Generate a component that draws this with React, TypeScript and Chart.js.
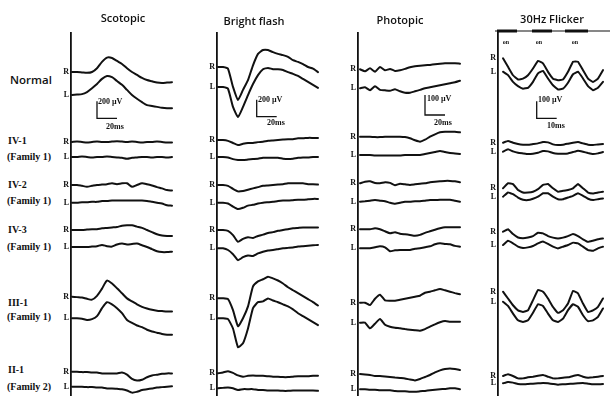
import React, { useEffect, useRef } from "react";
import { Chart, registerables } from "chart.js";
Chart.register(...registerables);

// ---------- categories / labels ----------
const protocols = ["Scotopic", "Bright flash", "Photopic", "30Hz Flicker"];
const subjects = ["Normal", "IV-1", "IV-2", "IV-3", "III-1", "II-1"];
const families = ["", "(Family 1)", "(Family 1)", "(Family 1)", "(Family 1)", "(Family 2)"];
const scaleBarUv = [200, 200, 100, 100];
const scaleBarMs = [20, 20, 20, 10];

// ---------- time bases (ms) ----------
const timeMs = [0, 5, 10, 15, 20, 25, 30, 35, 40, 45, 50, 55, 60, 65, 70, 75, 80, 85, 90, 95, 100];
const flickerTimeMs = [0, 2.5, 5, 7.5, 10, 12.5, 15, 17.5, 20, 22.5, 25, 27.5, 30, 32.5, 35, 37.5, 40, 42.5, 45, 47.5, 50];
const flickerStimOnMs = [-3, 14.5, 31];
const flickerStimOffMs = [7, 24.5, 42.5];

// ---------- Scotopic (µV) ----------
const scotNormalR = [0, 0, -5, -10, 0, 45, 120, 170, 165, 130, 95, 45, 0, -35, -70, -95, -110, -125, -130, -125, -120];
const scotNormalL = [0, 5, 10, 35, 80, 130, 190, 225, 210, 165, 120, 60, 0, -45, -85, -120, -130, -140, -150, -155, -155];
const scotIV1R = [0, 5, 0, -5, 0, 5, 0, 0, 5, 10, 5, 0, 5, 0, -5, 0, 0, 5, 0, -5, -5];
const scotIV1L = [0, 0, 5, 0, -5, 0, 0, 5, 0, -5, -10, -20, -10, -5, 0, 0, -5, 0, 0, -5, 0];
const scotIV2R = [0, 0, -10, -20, -10, 0, 5, 10, 20, 10, 20, 20, -20, 0, 20, 10, -5, -25, -40, -60, -65];
const scotIV2L = [0, 0, 5, 5, 10, 10, 20, 20, 25, 25, 25, 25, 25, 25, 25, 20, 10, 0, -10, -30, -35];
const scotIV3R = [0, 0, 0, 5, 10, 10, 20, 25, 30, 35, 50, 55, 55, 40, 25, 0, -25, -50, -65, -70, -70];
const scotIV3L = [0, 0, 0, 0, 5, 10, 25, 10, 5, 30, 40, 30, 35, 40, 20, 0, -25, -50, -60, -60, -55];
const scotIII1R = [0, -5, -10, -25, -35, 10, 95, 190, 155, 100, 40, -20, -55, -90, -120, -140, -155, -165, -170, -175, -175];
const scotIII1L = [0, 0, -5, -20, -10, 25, 120, 190, 165, 120, 60, -20, -55, -85, -105, -135, -155, -170, -185, -195, -195];
const scotII1R = [0, 0, -5, -5, -10, -10, -20, -20, -20, -20, -10, -35, -85, -105, -95, -65, -45, -35, -25, -20, -20];
const scotII1L = [0, 0, 0, -5, -5, -10, -10, -20, -20, -25, -30, -45, -70, -60, -40, -30, -20, -10, -5, 0, 5];

// ---------- Bright flash (µV) ----------
const brightNormalR = [0, 0, -20, -235, -390, -270, -155, 20, 155, 200, 200, 175, 155, 140, 120, 80, 60, 35, 0, -20, -60];
const brightNormalL = [0, 0, -20, -235, -355, -235, -95, 35, 140, 210, 225, 210, 210, 200, 175, 155, 130, 95, 60, 25, -10];
const brightIV1R = [0, 0, -10, -35, -60, -45, -35, -35, -25, -20, -10, -5, 0, 5, 10, 10, 20, 20, 25, 25, 25];
const brightIV1L = [0, 0, -5, -25, -35, -35, -30, -25, -20, -10, -10, -10, -10, -20, -25, -20, -10, -5, -5, 0, 0];
const brightIV2R = [0, 0, -10, -45, -75, -70, -55, -40, -25, -10, -5, 0, 5, 10, 20, 20, 20, 20, 10, 10, 5];
const brightIV2L = [0, 0, -10, -45, -75, -60, -35, -25, -10, 0, 5, 10, 20, 25, 25, 30, 35, 35, 40, 45, 45];
const brightIV3R = [0, 0, -10, -60, -140, -105, -85, -95, -70, -55, -35, -25, -10, 0, 10, 20, 25, 30, 30, 30, 30];
const brightIV3L = [0, 0, -20, -70, -140, -105, -85, -90, -60, -40, -25, -20, -10, 0, 5, 10, 20, 25, 30, 35, 40];
const brightIII1R = [0, 0, -10, -140, -330, -235, -95, 140, 200, 225, 255, 235, 210, 175, 130, 95, 60, 25, -10, -45, -85];
const brightIII1L = [0, 0, -10, -120, -340, -295, -120, 120, 190, 200, 235, 210, 190, 165, 140, 105, 60, 25, -10, -45, -80];
const brightII1R = [0, 10, 25, 5, -25, -40, -30, -25, -30, -30, -35, -40, -40, -45, -45, -40, -35, -35, -35, -30, -30];
const brightII1L = [0, 5, 10, 0, -20, -10, -10, -10, -20, -20, -25, -25, -25, -30, -30, -25, -25, -25, -25, -25, -30];

// ---------- Photopic (µV) ----------
const photoNormalR = [0, -10, 5, -12, 12, -5, 2, -8, -5, 2, 10, 15, 18, 20, 22, 25, 28, 30, 30, 30, 28];
const photoNormalL = [0, 5, -10, 10, -8, -10, -12, -5, -15, -22, -22, -15, -8, 0, 5, 10, 15, 20, 25, 30, 38];
const photoIV1R = [0, 0, 0, -2, -2, 0, 0, 0, 0, -2, -8, -18, -25, -15, 0, 12, 22, 25, 25, 25, 22];
const photoIV1L = [0, 0, 0, -2, -2, -2, -2, -2, -2, 0, 0, 0, 0, 5, 10, 15, 20, 15, 10, 8, 5];
const photoIV2R = [0, 8, 10, 2, 0, 5, 2, -10, -2, -5, -8, -5, -2, 0, 5, 8, 10, 12, 12, 10, 5];
const photoIV2L = [0, 2, 5, 8, 5, 2, -5, -10, -5, 0, 0, 2, 2, 5, 8, 8, 10, 10, 10, 5, 0];
const photoIV3R = [0, 0, 0, 5, 0, -10, -20, -15, -22, -25, -28, -32, -28, -18, -10, -2, 5, 10, 10, 10, 10];
const photoIV3L = [0, 0, 0, 5, 10, 5, -15, -10, -8, -8, -8, -2, 0, 5, 10, 20, 25, 22, 20, 12, 8];
const photoIII1R = [0, 0, -12, 20, 40, 12, 10, 10, 15, 20, 25, 30, 35, 50, 55, 62, 68, 62, 55, 48, 42];
const photoIII1L = [0, 0, -28, -5, 18, -10, -20, -25, -28, -32, -35, -38, -40, -32, -20, -8, 2, 8, 5, 5, 5];
const photoII1R = [0, -2, -5, -10, -10, -12, -15, -18, -20, -22, -28, -32, -25, -15, -5, 8, 18, 25, 28, 25, 20];
const photoII1L = [0, 0, -2, -2, -5, -5, -5, -8, -10, -10, -12, -12, -10, -8, -5, -2, 0, 2, 5, 5, 0];

// ---------- 30Hz Flicker (µV) ----------
const flickNormalR = [0, -50, -100, -125, -120, -100, -60, -15, -30, -80, -120, -130, -125, -80, -20, -20, -70, -120, -140, -120, -70];
const flickNormalL = [0, -20, -60, -85, -100, -95, -60, -10, 5, -40, -80, -105, -100, -65, -15, 0, -40, -85, -110, -95, -60];
const flickIV1R = [0, 10, 0, -8, -12, -12, -8, -4, 4, 2, -10, -14, -12, -6, 0, 4, -4, -12, -14, -10, -8];
const flickIV1L = [0, 14, 2, -6, -10, -14, -12, -6, 4, 2, -8, -12, -12, -10, -2, 6, 0, -8, -14, -10, -2];
const flickIV2R = [0, 30, 25, -10, -25, -25, -20, -5, 20, 25, 0, -20, -15, -10, 0, 25, 0, -25, -30, -25, -20];
const flickIV2L = [0, 25, 15, -5, -18, -20, -12, 0, 20, 20, 0, -15, -15, -5, 5, 20, 5, -12, -20, -15, -10];
const flickIV3R = [0, 14, -14, -34, -38, -34, -26, -6, -10, -26, -35, -40, -35, -26, -14, -26, -45, -60, -53, -45, -40];
const flickIV3L = [0, 25, 10, -10, -18, -14, -6, 10, 20, 6, -10, -20, -10, 0, 14, 10, -10, -30, -34, -20, -10];
const flickIII1R = [0, -40, -80, -110, -120, -110, -50, 10, 0, -40, -90, -125, -110, -70, 5, -10, -70, -120, -110, -90, -40];
const flickIII1L = [0, -25, -70, -110, -120, -110, -65, -15, -25, -70, -110, -120, -100, -50, -15, -30, -80, -115, -110, -90, -40];
const flickII1R = [0, 10, 0, -14, -14, -8, -4, 2, 6, -4, -14, -14, -10, -8, 0, 6, -4, -10, -8, -4, 0];
const flickII1L = [0, 8, 4, -4, -6, -4, -2, 0, 2, 0, -4, -8, -6, -4, -2, 0, 2, -2, -6, -6, -4];

// ---------- layout (pixels) ----------
const H = 396;
const YW = 14;
const INK = "#111";

type Col = {
  axisX: number; startX: number; right: number; top: number;
  msPerPx: number; uvPerPx: number; time: number[]; tension: number;
  traces: number[][][]; baseY: number[][];
  bar: { x: number; y: number };
  barText: { uv: [number, number]; ms: [number, number] };
  titleX: number; titleY: number;
};

const columns: Col[] = [
  {
    axisX: 71, startX: 72, right: 185, top: 33, msPerPx: 1, uvPerPx: 11.8, time: timeMs, tension: 0.25,
    traces: [[scotNormalR, scotNormalL], [scotIV1R, scotIV1L], [scotIV2R, scotIV2L], [scotIV3R, scotIV3L], [scotIII1R, scotIII1L], [scotII1R, scotII1L]],
    baseY: [[72, 95], [142, 157], [185, 202.7], [230, 247], [296.7, 318.3], [371.7, 386.7]],
    bar: { x: 97, y: 118.3 }, barText: { uv: [98, 102], ms: [106, 127] }, titleX: 123, titleY: 17,
  },
  {
    axisX: 217, startX: 218, right: 330, top: 33, msPerPx: 1, uvPerPx: 11.8, time: timeMs, tension: 0.15,
    traces: [[brightNormalR, brightNormalL], [brightIV1R, brightIV1L], [brightIV2R, brightIV2L], [brightIV3R, brightIV3L], [brightIII1R, brightIII1L], [brightII1R, brightII1L]],
    baseY: [[67, 87], [140, 157], [185, 202.7], [230, 248.3], [298.3, 318.3], [373.3, 388.3]],
    bar: { x: 256.7, y: 116.7 }, barText: { uv: [258, 100], ms: [267, 123] }, titleX: 254, titleY: 20,
  },
  {
    axisX: 358, startX: 360, right: 470, top: 33, msPerPx: 1, uvPerPx: 5, time: timeMs, tension: 0.15,
    traces: [[photoNormalR, photoNormalL], [photoIV1R, photoIV1L], [photoIV2R, photoIV2L], [photoIV3R, photoIV3L], [photoIII1R, photoIII1L], [photoII1R, photoII1L]],
    baseY: [[69.3, 88.3], [136.7, 155], [183.3, 201.7], [229.3, 248.3], [302.7, 322.7], [374, 389.3]],
    bar: { x: 425, y: 115 }, barText: { uv: [427, 99], ms: [434, 123] }, titleX: 400, titleY: 19,
  },
  {
    axisX: 498, startX: 503, right: 610, top: 33, msPerPx: 0.5, uvPerPx: 5.9, time: flickerTimeMs, tension: 0.08,
    traces: [[flickNormalR, flickNormalL], [flickIV1R, flickIV1L], [flickIV2R, flickIV2L], [flickIV3R, flickIV3L], [flickIII1R, flickIII1L], [flickII1R, flickII1L]],
    baseY: [[58.3, 71.7], [142.7, 151.7], [188.3, 196.7], [231.7, 245], [291.7, 301.7], [376, 383.3]],
    bar: { x: 536.7, y: 118.3 }, barText: { uv: [538, 100], ms: [547, 126] }, titleX: 552, titleY: 18,
  },
];

const rowLabelY = [
  [80, 0], [141, 157], [185, 201], [230, 247], [303, 317], [370, 387],
];
const stimLineY = 31;
const onLabelX = [506, 539, 575];

function Txt(props: { x: number; y: number; children: React.ReactNode; center?: boolean; style?: React.CSSProperties }) {
  const { x, y, center, style } = props;
  return (
    <div
      style={{
        position: "absolute", left: x, top: y, whiteSpace: "nowrap", lineHeight: 1, color: INK,
        transform: center ? "translate(-50%,-50%)" : "translateY(-50%)", zIndex: 2, ...style,
      }}
    >
      {props.children}
    </div>
  );
}

export default function App() {
  const refs = useRef<(HTMLCanvasElement | null)[]>([]);

  useEffect(() => {
    document.body.style.margin = "0";
    const charts = columns.map((col, ci) => {
      const canvas = refs.current[ci]!;
      const toUv = (py: number) => -(py - col.top) * col.uvPerPx;
      const toMs = (px: number) => (px - col.startX) * col.msPerPx;
      const areaW = col.right - col.axisX;
      const datasets: any[] = [];
      const tickList: { value: number; label: string }[] = [];
      col.traces.forEach((pair, r) =>
        pair.forEach((vals, k) => {
          const base = toUv(col.baseY[r][k]);
          datasets.push({
            data: vals.map((v, i) => ({ x: col.time[i], y: base + v })),
            borderColor: INK, borderWidth: 2, pointRadius: 0, tension: col.tension, clip: false,
            borderJoinStyle: "round", borderCapStyle: "round",
          });
          tickList.push({ value: base, label: k === 0 ? "R" : "L" });
        })
      );
      // calibration bar
      const bx = toMs(col.bar.x);
      const by = toUv(col.bar.y);
      datasets.push({
        data: [
          { x: bx, y: by + scaleBarUv[ci] },
          { x: bx, y: by },
          { x: bx + scaleBarMs[ci], y: by },
        ],
        borderColor: INK, borderWidth: 1.3, pointRadius: 0, tension: 0,
      });
      if (ci === 3) {
        const sy = toUv(stimLineY);
        datasets.push({
          data: [{ x: toMs(495), y: sy }, { x: toMs(610), y: sy }],
          borderColor: INK, borderWidth: 1.2, pointRadius: 0, tension: 0, clip: false,
        });
        flickerStimOnMs.forEach((on, i) => {
          datasets.push({
            data: [{ x: on, y: sy }, { x: flickerStimOffMs[i], y: sy }],
            borderColor: INK, borderWidth: 3, pointRadius: 0, tension: 0, clip: false,
          });
        });
      }
      return new Chart(canvas, {
        type: "line",
        data: { datasets },
        options: {
          animation: false,
          responsive: false,
          devicePixelRatio: 1,
          layout: { padding: { top: col.top, bottom: 0, left: 0, right: 0 }, autoPadding: false },
          plugins: { legend: { display: false }, tooltip: { enabled: false } },
          scales: {
            x: { type: "linear", min: toMs(col.axisX), max: toMs(col.axisX) + areaW * col.msPerPx, display: false },
            y: {
              type: "linear",
              min: toUv(H),
              max: toUv(col.top),
              grid: { display: false, drawTicks: false },
              border: { display: true, color: INK, width: 1.8 },
              ticks: {
                autoSkip: false,
                padding: 2,
                color: INK,
                font: { family: "Liberation Serif", size: 8, weight: "bold" },
                callback: (_v: any, i: number) => (tickList[i] ? tickList[i].label : ""),
              },
              afterBuildTicks: (s: any) => {
                s.ticks = tickList.map((t) => ({ value: t.value }));
              },
              afterFit: (s: any) => {
                s.width = YW;
                s.paddingTop = 0;
                s.paddingBottom = 0;
              },
            } as any,
          },
        },
      });
    });
    return () => charts.forEach((c) => c.destroy());
  }, []);

  const titleFont: React.CSSProperties = { fontFamily: "'Open Sans', sans-serif", fontSize: 11, fontWeight: 600 };
  const serifSmall: React.CSSProperties = { fontFamily: "'Liberation Serif', serif", fontSize: 10, fontWeight: "bold" };
  const barFont: React.CSSProperties = { fontFamily: "'Liberation Serif', serif", fontSize: 8, fontWeight: "bold" };

  return (
    <div style={{ position: "relative", width: 610, height: H, background: "#fff", overflow: "hidden" }}>
      {columns.map((col, ci) => (
        <canvas
          key={ci}
          ref={(el) => { refs.current[ci] = el; }}
          width={YW + (col.right - col.axisX)}
          height={H}
          style={{ position: "absolute", left: col.axisX - YW, top: 0, zIndex: 1 }}
        />
      ))}
      {columns.map((col, ci) => (
        <Txt key={"t" + ci} x={col.titleX} y={col.titleY} center style={titleFont}>
          {protocols[ci]}
        </Txt>
      ))}
      {columns.map((col, ci) => (
        <React.Fragment key={"b" + ci}>
          <Txt x={col.barText.uv[0]} y={col.barText.uv[1]} style={barFont}>{scaleBarUv[ci] + " µV"}</Txt>
          <Txt x={col.barText.ms[0]} y={col.barText.ms[1]} style={barFont}>{scaleBarMs[ci] + "ms"}</Txt>
        </React.Fragment>
      ))}
      {onLabelX.map((x, i) => (
        <Txt key={"on" + i} x={x} y={42} center style={{ fontFamily: "'Liberation Serif', serif", fontSize: 6, fontWeight: "bold" }}>
          on
        </Txt>
      ))}
      {subjects.map((s, r) =>
        r === 0 ? (
          <Txt key={"s" + r} x={10} y={rowLabelY[r][0]} style={{ ...titleFont, fontSize: 11.5 }}>{s}</Txt>
        ) : (
          <React.Fragment key={"s" + r}>
            <Txt x={8} y={rowLabelY[r][0]} style={serifSmall}>{s}</Txt>
            <Txt x={7} y={rowLabelY[r][1]} style={serifSmall}>{families[r]}</Txt>
          </React.Fragment>
        )
      )}
    </div>
  );
}
